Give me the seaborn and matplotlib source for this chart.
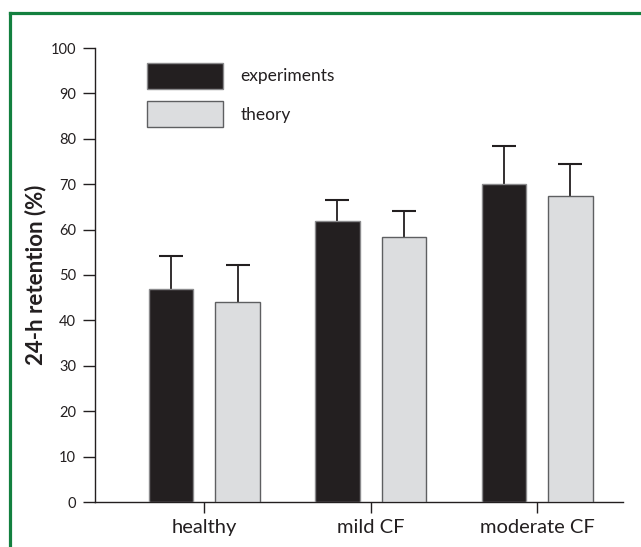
import matplotlib
matplotlib.use("Agg")
import matplotlib.pyplot as plt
from matplotlib.lines import Line2D
import seaborn as sns
import pandas as pd
import numpy as np

categories = ["healthy", "mild CF", "moderate CF"]
series_names = ["experiments", "theory"]
experiments = [47.0, 62.0, 70.0]
experiments_err = [7.2, 4.6, 8.4]
theory = [44.0, 58.4, 67.3]
theory_err = [8.3, 5.8, 7.2]
y_ticks = [0, 10, 20, 30, 40, 50, 60, 70, 80, 90, 100]

df = pd.DataFrame({
    "category": categories * 2,
    "series": [series_names[0]] * 3 + [series_names[1]] * 3,
    "value": experiments + theory,
})

sns.set_style("ticks")
plt.rcParams["font.family"] = ["Lato", "DejaVu Sans"]

BLACK = "#231f20"
GRAY = "#dcdddf"

fig = plt.figure(figsize=(6.41, 5.47), dpi=100)
ax = fig.add_axes([95 / 641, 1 - 502 / 547, (623 - 95) / 641, (502 - 48) / 547])

sns.barplot(data=df, x="category", y="value", hue="series", order=categories,
            hue_order=series_names, palette=[BLACK, GRAY], width=0.8, gap=0.33,
            errorbar=None, ax=ax, saturation=1, linewidth=0)

edge_cols = ["#8a8a8c", "#5e5f61"]
for cont, ec, errs in zip(ax.containers, edge_cols, [experiments_err, theory_err]):
    xs, ys = [], []
    for p in cont:
        p.set_edgecolor(ec)
        p.set_linewidth(1.0)
        p.set_zorder(3)
        xs.append(p.get_x() + p.get_width() / 2)
        ys.append(p.get_height())
    _, caps, _ = ax.errorbar(xs, ys, yerr=[np.zeros(len(errs)), errs], fmt="none",
                             ecolor=BLACK, elinewidth=1.3, capsize=8.6, capthick=1.5,
                             zorder=2)
    if len(caps) == 2:
        caps[0].set_visible(False)

ax.set_ylim(0, 100)
ax.set_xlim(-0.657, 2.516)
ax.set_yticks(y_ticks)
ax.set_yticklabels([str(t) for t in y_ticks], fontsize=10.5, color=BLACK)
ax.set_xticks(range(len(categories)))
ax.set_xticklabels(categories, fontsize=14.5, color=BLACK)
ax.tick_params(axis="y", length=8.6, width=1.0, pad=5, color=BLACK)
ax.tick_params(axis="x", length=8, width=1.0, pad=4, color=BLACK)
ax.set_xlabel("")
ax.set_ylabel("24-h retention (%)", fontsize=16, fontweight="bold", color=BLACK, labelpad=3)
for s in ["top", "right"]:
    ax.spines[s].set_visible(False)
for s in ["left", "bottom"]:
    ax.spines[s].set_color(BLACK)
    ax.spines[s].set_linewidth(1.0)

handles, labels = ax.get_legend_handles_labels()
if ax.get_legend() is not None:
    ax.get_legend().remove()
leg = ax.legend(handles, labels, loc="upper left", bbox_to_anchor=(0.0985, 0.968),
                frameon=False, fontsize=12.5, handlelength=4.37, handleheight=1.97,
                labelspacing=0.68, handletextpad=1.0, borderpad=0, borderaxespad=0)
for h, ec in zip(leg.legend_handles, edge_cols):
    h.set_edgecolor(ec)
    h.set_linewidth(1.0)
for t in leg.get_texts():
    t.set_color(BLACK)

GREEN = "#13803f"
fig.add_artist(Line2D([9.5 / 641, 9.5 / 641], [0, 1 - 12.5 / 547], color=GREEN, lw=2.3,
                      transform=fig.transFigure, solid_capstyle="projecting"))
fig.add_artist(Line2D([9.5 / 641, 1], [1 - 12.5 / 547, 1 - 12.5 / 547], color=GREEN, lw=2.3,
                      transform=fig.transFigure, solid_capstyle="projecting"))

fig.savefig("out.png", dpi=100)
